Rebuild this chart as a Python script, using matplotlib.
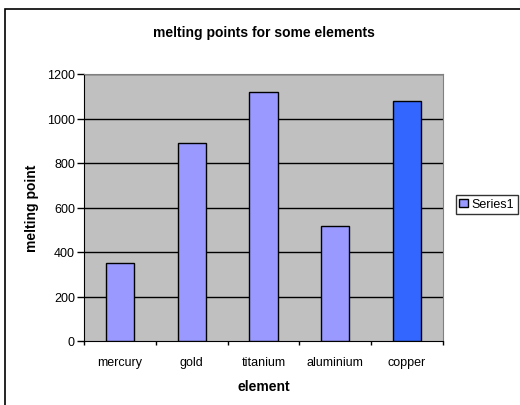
import matplotlib
matplotlib.use('Agg')
import matplotlib.pyplot as plt
from matplotlib.patches import Rectangle, Patch
import numpy as np

elements = ['mercury', 'gold', 'titanium', 'aluminium', 'copper']
melting_points = [350, 890, 1120, 515, 1077]
bar_colors = ['#9999FF', '#9999FF', '#9999FF', '#9999FF', '#3366FF']
y_ticks = [0, 200, 400, 600, 800, 1000, 1200]

plt.rcParams['font.family'] = ['Liberation Sans', 'DejaVu Sans']

fig = plt.figure(figsize=(5.2, 4.06), dpi=100)
fig.patch.set_facecolor('white')

# outer chart border (runs off the right and bottom edge)
fig.patches.append(Rectangle((5 / 520, -0.1), 1.2, (406 - 10) / 406 + 0.1,
                             transform=fig.transFigure, fill=False,
                             edgecolor='black', linewidth=1.2))

ax = fig.add_axes([84 / 520, (406 - 342) / 406, (443 - 84) / 520, (342 - 75) / 406])
ax.set_facecolor('#C0C0C0')

x = np.arange(len(elements))
ax.bar(x, melting_points, width=0.39, color=bar_colors,
       edgecolor='black', linewidth=1, zorder=3)

ax.set_xlim(-0.5, len(elements) - 0.5)
ax.set_ylim(0, 1200)
ax.set_yticks(y_ticks)
ax.tick_params(axis='y', direction='out', length=5, width=1, labelsize=9, pad=1.5)
for v in y_ticks[1:]:
    ax.axhline(v, color='black', linewidth=1, zorder=1)

ax.set_xticks(np.arange(-0.5, len(elements)))
ax.set_xticklabels([])
ax.set_xticks(x, minor=True)
ax.set_xticklabels(elements, minor=True)
ax.tick_params(axis='x', which='major', direction='out', length=3, width=1)
ax.tick_params(axis='x', which='minor', length=0, labelsize=9, pad=11)

ax.spines['left'].set_color('black')
ax.spines['bottom'].set_color('black')
ax.spines['top'].set_color('#808080')
ax.spines['right'].set_color('#808080')

ax.set_title('melting points for some elements', fontsize=10,
             fontweight='bold', pad=27)
ax.set_xlabel('element', fontsize=10, fontweight='bold', labelpad=8)
ax.set_ylabel('melting point', fontsize=10, fontweight='bold', labelpad=6)

handles = [Patch(facecolor='#9999FF', edgecolor='black', label='Series1')]
leg = fig.legend(handles=handles, loc='upper left',
                 bbox_to_anchor=(455.5 / 520, (406 - 195.5) / 406),
                 fontsize=9, frameon=True, fancybox=False,
                 handlelength=0.7, handleheight=0.7, handletextpad=0.3,
                 borderpad=0.3, borderaxespad=0)
leg.get_frame().set_edgecolor('black')
leg.get_frame().set_linewidth(1)

fig.savefig('out.png', dpi=100)
